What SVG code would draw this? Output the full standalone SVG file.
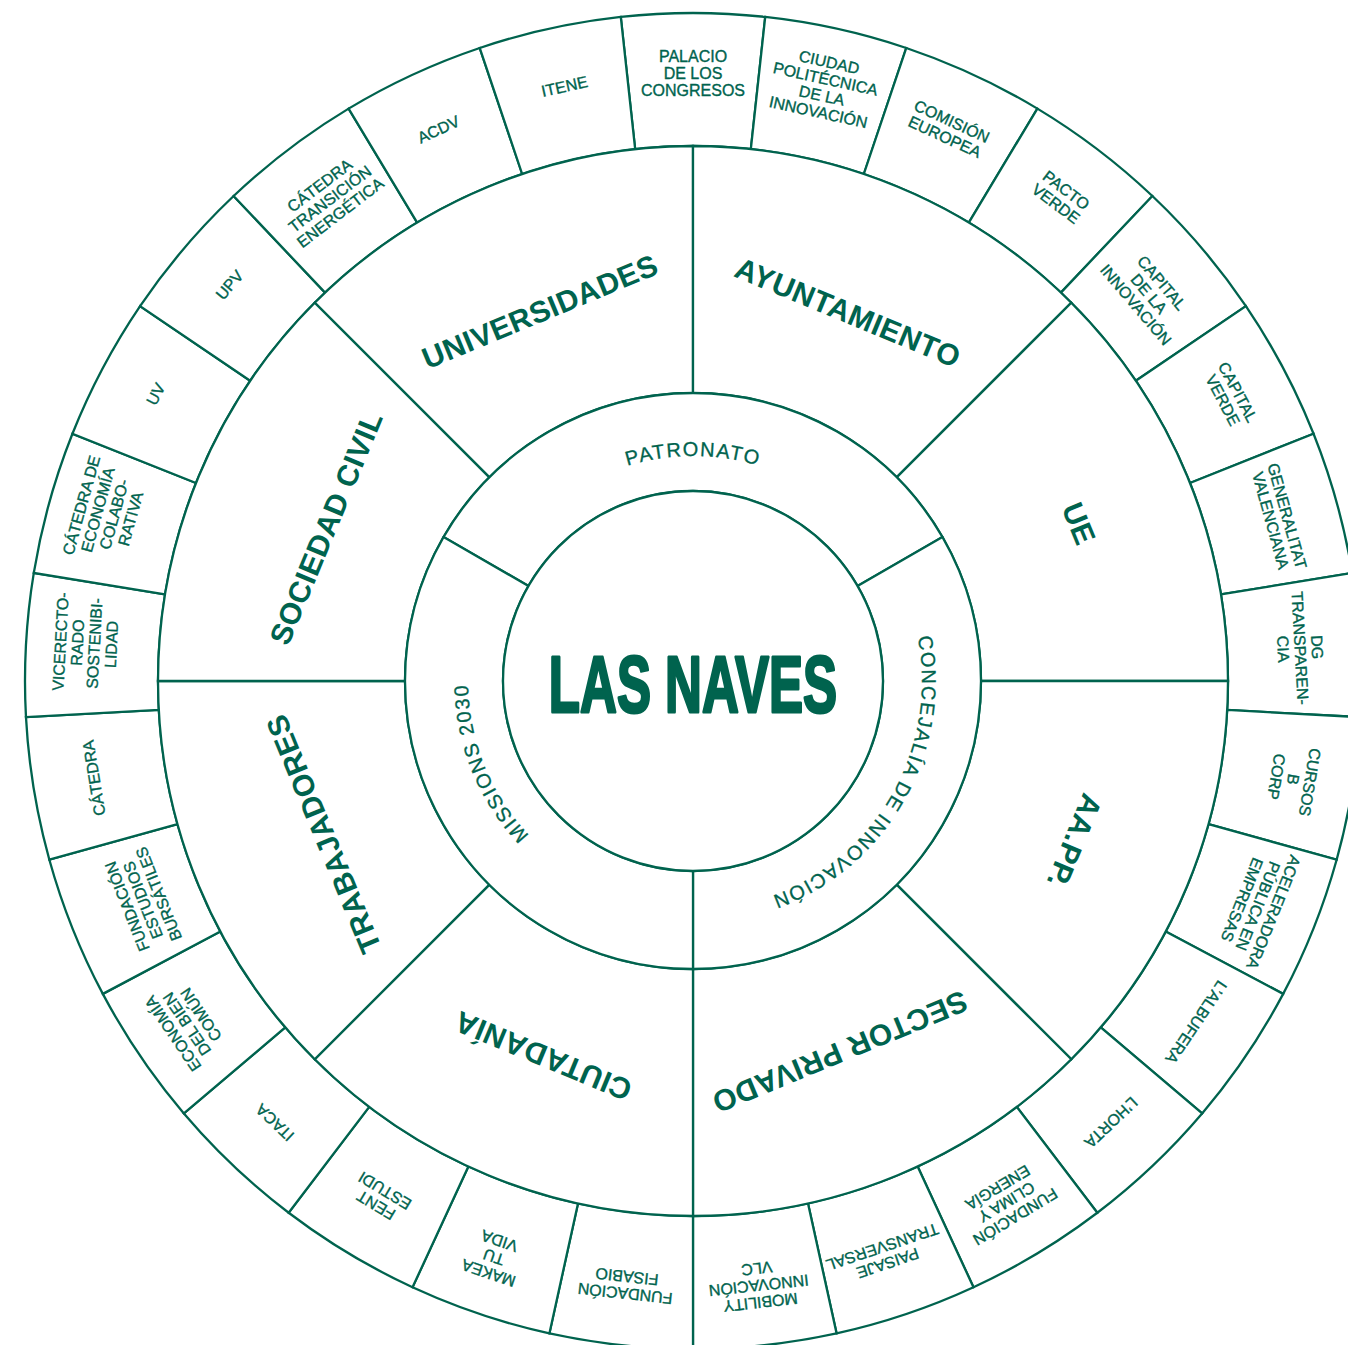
<svg xmlns="http://www.w3.org/2000/svg" width="1348" height="1345" viewBox="0 0 1348 1345">
<style>
.sec{fill:#fff;stroke:#00634e;stroke-width:2.3;stroke-linejoin:miter}
.t{font-family:"Liberation Sans",Arial,sans-serif;fill:#00634e;text-anchor:middle}
.ol{font-size:16px;stroke:#00634e;stroke-width:0.35}
.ml{font-size:20px;letter-spacing:1.5px;stroke:#00634e;stroke-width:0.3}
.tl{font-size:30px;font-weight:bold;letter-spacing:0.4px}
.hub{font-size:80px;font-weight:bold;stroke:#00634e;stroke-width:3;stroke-linejoin:round}
</style>
<defs>
<path id="arcPat" d="M481.57,604.05 A225,225 0 0 1 904.43,604.05"/>
<path id="arcCon" d="M867.13,532.28 A229,229 0 0 1 655.20,906.86"/>
<path id="arcMis" d="M700.85,905.86 A225,225 0 0 1 542.45,513.80"/>
</defs>
<rect width="1348" height="1345" fill="#fff"/>

<g id="outer-ring">
<g id="n-palacio"><path class="sec" d="M635.16,149.14 L620.78,16.91 A668,668 0 0 1 765.22,16.91 L750.84,149.14 A535,535 0 0 0 635.16,149.14 Z"/>
<text class="t ol" transform="translate(693,73)"><tspan x="0" y="-11.5">PALACIO</tspan><tspan x="0" dy="17">DE LOS</tspan><tspan x="0" dy="17">CONGRESOS</tspan></text></g>
<g id="n-ciudad"><path class="sec" d="M750.84,149.14 L765.22,16.91 A668,668 0 0 1 906.29,47.97 L863.83,174.00 A535,535 0 0 0 750.84,149.14 Z"/>
<text class="t ol" transform="translate(823.7,87.2) rotate(12.41)"><tspan x="0" y="-20">CIUDAD</tspan><tspan x="0" dy="17">POLITÉCNICA</tspan><tspan x="0" dy="17">DE LA</tspan><tspan x="0" dy="17">INNOVACIÓN</tspan></text></g>
<g id="n-comision"><path class="sec" d="M863.83,174.00 L906.29,47.97 A668,668 0 0 1 1037.39,108.62 L968.82,222.58 A535,535 0 0 0 863.83,174.00 Z"/>
<text class="t ol" transform="translate(948.3,129.2) rotate(24.83)"><tspan x="0" y="-3">COMISIÓN</tspan><tspan x="0" dy="17">EUROPEA</tspan></text></g>
<g id="n-pacto"><path class="sec" d="M968.82,222.58 L1037.39,108.62 A668,668 0 0 1 1152.38,196.03 L1060.92,292.59 A535,535 0 0 0 968.82,222.58 Z"/>
<text class="t ol" transform="translate(1061,197) rotate(37.24)"><tspan x="0" y="-3">PACTO</tspan><tspan x="0" dy="17">VERDE</tspan></text></g>
<g id="n-capital-innovacion"><path class="sec" d="M1060.92,292.59 L1152.38,196.03 A668,668 0 0 1 1245.91,306.13 L1135.82,380.76 A535,535 0 0 0 1060.92,292.59 Z"/>
<text class="t ol" transform="translate(1148.8,293.9) rotate(49.66)"><tspan x="0" y="-11.5">CAPITAL</tspan><tspan x="0" dy="17">DE LA</tspan><tspan x="0" dy="17">INNOVACIÓN</tspan></text></g>
<g id="n-capital-verde"><path class="sec" d="M1135.82,380.76 L1245.91,306.13 A668,668 0 0 1 1313.56,433.75 L1190.00,482.98 A535,535 0 0 0 1135.82,380.76 Z"/>
<text class="t ol" transform="translate(1230.2,396.2) rotate(62.07)"><tspan x="0" y="-3">CAPITAL</tspan><tspan x="0" dy="17">VERDE</tspan></text></g>
<g id="n-generalitat"><path class="sec" d="M1190.00,482.98 L1313.56,433.75 A668,668 0 0 1 1352.20,572.93 L1220.95,594.45 A535,535 0 0 0 1190.00,482.98 Z"/>
<text class="t ol" transform="translate(1278.8,518.3) rotate(74.48)"><tspan x="0" y="-3">GENERALITAT</tspan><tspan x="0" dy="17">VALENCIANA</tspan></text></g>
<g id="n-dg"><path class="sec" d="M1220.95,594.45 L1352.20,572.93 A668,668 0 0 1 1360.02,717.16 L1227.21,709.96 A535,535 0 0 0 1220.95,594.45 Z"/>
<text class="t ol" transform="translate(1300.1,648.1) rotate(86.9)"><tspan x="0" y="-11.5">DG</tspan><tspan x="0" dy="17">TRANSPAREN-</tspan><tspan x="0" dy="17">CIA</tspan></text></g>
<g id="n-cursos"><path class="sec" d="M1227.21,709.96 L1360.02,717.16 A668,668 0 0 1 1336.65,859.70 L1208.50,824.12 A535,535 0 0 0 1227.21,709.96 Z"/>
<text class="t ol" transform="translate(1293,779.4) rotate(99.31)"><tspan x="0" y="-11.5">CURSOS</tspan><tspan x="0" dy="17">B</tspan><tspan x="0" dy="17">CORP</tspan></text></g>
<g id="n-aceleradora"><path class="sec" d="M1208.50,824.12 L1336.65,859.70 A668,668 0 0 1 1283.18,993.89 L1165.68,931.59 A535,535 0 0 0 1208.50,824.12 Z"/>
<text class="t ol" transform="translate(1257.8,906) rotate(111.72)"><tspan x="0" y="-11.5">ACELERADORA</tspan><tspan x="0" dy="17">PÚBLICA EN</tspan><tspan x="0" dy="17">EMPRESAS</tspan></text></g>
<g id="n-albufera"><path class="sec" d="M1165.68,931.59 L1283.18,993.89 A668,668 0 0 1 1202.12,1113.45 L1100.76,1027.35 A535,535 0 0 0 1165.68,931.59 Z"/>
<text class="t ol" transform="translate(1196.2,1022.2) rotate(124.14)"><tspan x="0" y="5.5">L’ALBUFERA</tspan></text></g>
<g id="n-horta"><path class="sec" d="M1100.76,1027.35 L1202.12,1113.45 A668,668 0 0 1 1097.33,1212.73 L1016.82,1106.87 A535,535 0 0 0 1100.76,1027.35 Z"/>
<text class="t ol" transform="translate(1111.1,1122.4) rotate(136.55)"><tspan x="0" y="5.5">L’HORTA</tspan></text></g>
<g id="n-fundacion-clima"><path class="sec" d="M1016.82,1106.87 L1097.33,1212.73 A668,668 0 0 1 973.48,1287.26 L917.64,1166.56 A535,535 0 0 0 1016.82,1106.87 Z"/>
<text class="t ol" transform="translate(1006.5,1202) rotate(148.97)"><tspan x="0" y="-11.5">FUNDACIÓN</tspan><tspan x="0" dy="17">CLIMA Y</tspan><tspan x="0" dy="17">ENERGÍA</tspan></text></g>
<g id="n-paisaje"><path class="sec" d="M917.64,1166.56 L973.48,1287.26 A668,668 0 0 1 836.60,1333.38 L808.01,1203.49 A535,535 0 0 0 917.64,1166.56 Z"/>
<text class="t ol" transform="translate(885,1255) rotate(161.38)"><tspan x="0" y="-3">PAISAJE</tspan><tspan x="0" dy="17">TRANSVERSAL</tspan></text></g>
<g id="n-mobility"><path class="sec" d="M808.01,1203.49 L836.60,1333.38 A668,668 0 0 1 693,1349 L693,1216 A535,535 0 0 0 808.01,1203.49 Z"/>
<text class="t ol" transform="translate(758.7,1285.4) rotate(173.79)"><tspan x="0" y="-11.5">MOBILITY</tspan><tspan x="0" dy="17">INNOVACIÓN</tspan><tspan x="0" dy="17">VLC</tspan></text></g>
<g id="n-fisabio"><path class="sec" d="M693,1216 L693,1349 A668,668 0 0 1 549.40,1333.38 L577.99,1203.49 A535,535 0 0 0 693,1216 Z"/>
<text class="t ol" transform="translate(626,1285) rotate(186.21)"><tspan x="0" y="-3">FUNDACIÓN</tspan><tspan x="0" dy="17">FISABIO</tspan></text></g>
<g id="n-makea"><path class="sec" d="M577.99,1203.49 L549.40,1333.38 A668,668 0 0 1 412.52,1287.26 L468.36,1166.56 A535,535 0 0 0 577.99,1203.49 Z"/>
<text class="t ol" transform="translate(494,1257) rotate(198.62)"><tspan x="0" y="-11.5">MAKEA</tspan><tspan x="0" dy="17">TU</tspan><tspan x="0" dy="17">VIDA</tspan></text></g>
<g id="n-fent"><path class="sec" d="M468.36,1166.56 L412.52,1287.26 A668,668 0 0 1 288.67,1212.73 L369.18,1106.87 A535,535 0 0 0 468.36,1166.56 Z"/>
<text class="t ol" transform="translate(380.5,1198) rotate(211.03)"><tspan x="0" y="-3">FENT</tspan><tspan x="0" dy="17">ESTUDI</tspan></text></g>
<g id="n-itaca"><path class="sec" d="M369.18,1106.87 L288.67,1212.73 A668,668 0 0 1 183.88,1113.45 L285.24,1027.35 A535,535 0 0 0 369.18,1106.87 Z"/>
<text class="t ol" transform="translate(274.9,1122.4) rotate(223.45)"><tspan x="0" y="5.5">ITACA</tspan></text></g>
<g id="n-economia-bien-comun"><path class="sec" d="M285.24,1027.35 L183.88,1113.45 A668,668 0 0 1 102.82,993.89 L220.32,931.59 A535,535 0 0 0 285.24,1027.35 Z"/>
<text class="t ol" transform="translate(187,1024) rotate(235.86)"><tspan x="0" y="-11.5">ECONOMÍA</tspan><tspan x="0" dy="17">DEL BIEN</tspan><tspan x="0" dy="17">COMÚN</tspan></text></g>
<g id="n-fundacion-estudios"><path class="sec" d="M220.32,931.59 L102.82,993.89 A668,668 0 0 1 49.35,859.70 L177.50,824.12 A535,535 0 0 0 220.32,931.59 Z"/>
<text class="t ol" transform="translate(143,900.1) rotate(248.28)"><tspan x="0" y="-11.5">FUNDACIÓN</tspan><tspan x="0" dy="17">ESTUDIOS</tspan><tspan x="0" dy="17">BURSÁTILES</tspan></text></g>
<g id="n-catedra"><path class="sec" d="M177.50,824.12 L49.35,859.70 A668,668 0 0 1 25.98,717.16 L158.79,709.96 A535,535 0 0 0 177.50,824.12 Z"/>
<text class="t ol" transform="translate(94,778) rotate(260.69)"><tspan x="0" y="5.5">CÁTEDRA</tspan></text></g>
<g id="n-vicerectorado"><path class="sec" d="M158.79,709.96 L25.98,717.16 A668,668 0 0 1 33.80,572.93 L165.05,594.45 A535,535 0 0 0 158.79,709.96 Z"/>
<text class="t ol" transform="translate(86,643) rotate(273.1)"><tspan x="0" y="-20">VICERECTO-</tspan><tspan x="0" dy="17">RADO</tspan><tspan x="0" dy="17">SOSTENIBI-</tspan><tspan x="0" dy="17">LIDAD</tspan></text></g>
<g id="n-catedra-economia"><path class="sec" d="M165.05,594.45 L33.80,572.93 A668,668 0 0 1 72.44,433.75 L196.00,482.98 A535,535 0 0 0 165.05,594.45 Z"/>
<text class="t ol" transform="translate(106,512) rotate(285.52)"><tspan x="0" y="-20">CÁTEDRA DE</tspan><tspan x="0" dy="17">ECONOMÍA</tspan><tspan x="0" dy="17">COLABO-</tspan><tspan x="0" dy="17">RATIVA</tspan></text></g>
<g id="n-uv"><path class="sec" d="M196.00,482.98 L72.44,433.75 A668,668 0 0 1 140.09,306.13 L250.18,380.76 A535,535 0 0 0 196.00,482.98 Z"/>
<text class="t ol" transform="translate(155.8,394) rotate(297.93)"><tspan x="0" y="5.5">UV</tspan></text></g>
<g id="n-upv"><path class="sec" d="M250.18,380.76 L140.09,306.13 A668,668 0 0 1 233.62,196.03 L325.08,292.59 A535,535 0 0 0 250.18,380.76 Z"/>
<text class="t ol" transform="translate(229.6,285) rotate(310.34)"><tspan x="0" y="5.5">UPV</tspan></text></g>
<g id="n-catedra-transicion"><path class="sec" d="M325.08,292.59 L233.62,196.03 A668,668 0 0 1 348.61,108.62 L417.18,222.58 A535,535 0 0 0 325.08,292.59 Z"/>
<text class="t ol" transform="translate(330,199) rotate(322.76)"><tspan x="0" y="-11.5">CÁTEDRA</tspan><tspan x="0" dy="17">TRANSICIÓN</tspan><tspan x="0" dy="17">ENERGÉTICA</tspan></text></g>
<g id="n-acdv"><path class="sec" d="M417.18,222.58 L348.61,108.62 A668,668 0 0 1 479.71,47.97 L522.17,174.00 A535,535 0 0 0 417.18,222.58 Z"/>
<text class="t ol" transform="translate(438.5,129.5) rotate(335.17)"><tspan x="0" y="5.5">ACDV</tspan></text></g>
<g id="n-itene"><path class="sec" d="M522.17,174.00 L479.71,47.97 A668,668 0 0 1 620.78,16.91 L635.16,149.14 A535,535 0 0 0 522.17,174.00 Z"/>
<text class="t ol" transform="translate(564.5,86.5) rotate(347.59)"><tspan x="0" y="5.5">ITENE</tspan></text></g>
</g>

<g id="sector-ring">
<g id="n-universidades"><path class="sec" d="M489.35,477.35 L314.70,302.70 A535,535 0 0 1 693,146 L693,393 A288,288 0 0 0 489.35,477.35 Z"/>
<text class="t tl" transform="translate(539.9,311.5) rotate(-22.5)" y="10.5">UNIVERSIDADES</text></g>
<g id="n-ayuntamiento"><path class="sec" d="M693,393 L693,146 A535,535 0 0 1 1071.30,302.70 L896.65,477.35 A288,288 0 0 0 693,393 Z"/>
<text class="t tl" transform="translate(848,312.5) rotate(22.5)" y="10.5">AYUNTAMIENTO</text></g>
<g id="n-ue"><path class="sec" d="M896.65,477.35 L1071.30,302.70 A535,535 0 0 1 1228,681 L981,681 A288,288 0 0 0 896.65,477.35 Z"/>
<text class="t tl" transform="translate(1079,523.5) rotate(67.5)" y="10.5">UE</text></g>
<g id="n-aapp"><path class="sec" d="M981,681 L1228,681 A535,535 0 0 1 1071.30,1059.30 L896.65,884.65 A288,288 0 0 0 981,681 Z"/>
<text class="t tl" transform="translate(1074.6,841) rotate(112.5)" y="10.5">AA.PP.</text></g>
<g id="n-sector-privado"><path class="sec" d="M896.65,884.65 L1071.30,1059.30 A535,535 0 0 1 693,1216 L693,969 A288,288 0 0 0 896.65,884.65 Z"/>
<text class="t tl" transform="translate(840,1052) rotate(157.5)" y="10.5">SECTOR PRIVADO</text></g>
<g id="n-ciutadania"><path class="sec" d="M693,969 L693,1216 A535,535 0 0 1 314.70,1059.30 L489.35,884.65 A288,288 0 0 0 693,969 Z"/>
<text class="t tl" transform="translate(543,1056) rotate(202.5)" y="10.5">CIUTADANÍA</text></g>
<g id="n-trabajadores"><path class="sec" d="M489.35,884.65 L314.70,1059.30 A535,535 0 0 1 158,681 L405,681 A288,288 0 0 0 489.35,884.65 Z"/>
<text class="t tl" transform="translate(323.5,834) rotate(247.5)" y="10.5">TRABAJADORES</text></g>
<g id="n-sociedad-civil"><path class="sec" d="M405,681 L158,681 A535,535 0 0 1 314.70,302.70 L489.35,477.35 A288,288 0 0 0 405,681 Z"/>
<text class="t tl" transform="translate(326,528) rotate(-67.5)" y="10.5">SOCIEDAD CIVIL</text></g>
</g>

<g id="inner-ring">
<g id="n-patronato"><path class="sec" d="M528.45,586 L443.58,537 A288,288 0 0 1 942.42,537 L857.55,586 A190,190 0 0 0 528.45,586 Z"/>
<text class="t ml"><textPath href="#arcPat" startOffset="50%">PATRONATO</textPath></text></g>
<g id="n-concejalia"><path class="sec" d="M857.55,586 L942.42,537 A288,288 0 0 1 693,969 L693,871 A190,190 0 0 0 857.55,586 Z"/>
<text class="t ml"><textPath href="#arcCon" startOffset="50%">CONCEJALÍA DE INNOVACIÓN</textPath></text></g>
<g id="n-missions"><path class="sec" d="M693,871 L693,969 A288,288 0 0 1 443.58,537 L528.45,586 A190,190 0 0 0 693,871 Z"/>
<text class="t ml"><textPath href="#arcMis" startOffset="50%">MISSIONS 2030</textPath></text></g>
</g>

<g id="n-las-naves">
<circle class="sec" cx="693" cy="681" r="190"/>
<text class="t hub" transform="translate(693,712) scale(0.638,1)">LAS NAVES</text>
</g>

<g id="connectors"></g>
</svg>
